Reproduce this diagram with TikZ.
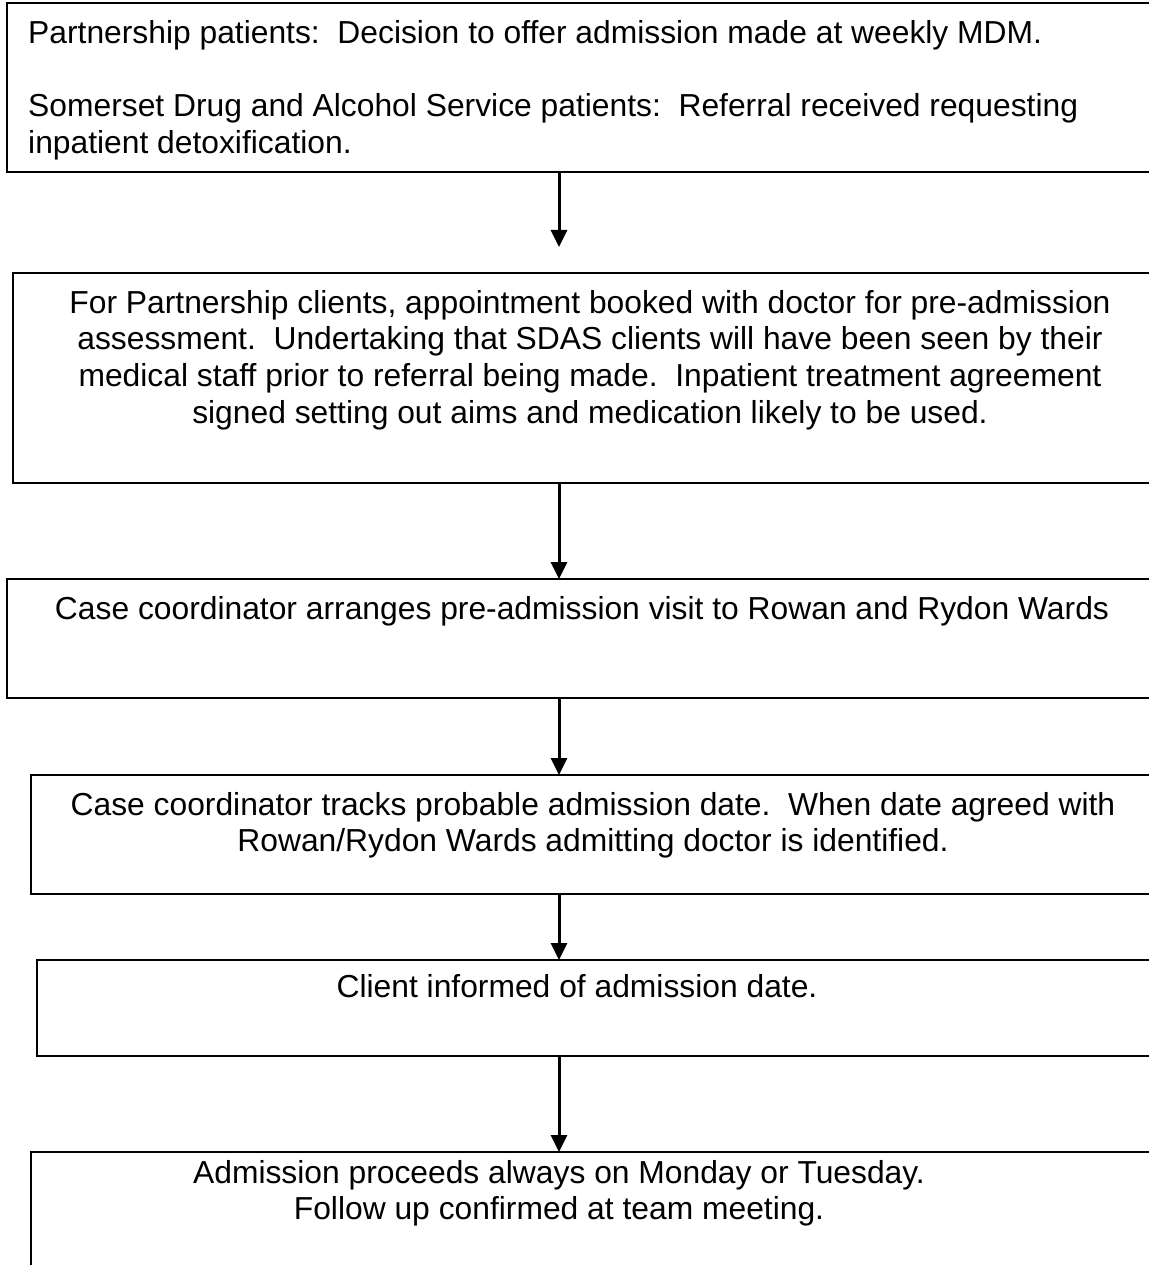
\documentclass[tikz,border=0pt]{standalone}
\usepackage{fontspec}
\setmainfont{Liberation Sans}
\usetikzlibrary{arrows.meta}

\begin{document}
\begin{tikzpicture}[x=1pt,y=-1pt,
    box/.style={draw,line width=1.8pt,outer sep=0pt,inner sep=0pt,anchor=north west},
    txt/.style={inner sep=0pt,anchor=north,align=center,font=\fontsize{31.8}{36.7}\selectfont},
    flow/.style={line width=3pt,-{Triangle[width=16pt,length=17pt]}}]
  \useasboundingbox (0,0) rectangle (1148,1265);
  % boxes, their right sides run off the page
  \node[box,minimum width=1163pt,minimum height=169pt] (b1) at (7,3) {};
  \node[box,minimum width=1157pt,minimum height=210pt] (b2) at (13,273) {};
  \node[box,minimum width=1163pt,minimum height=119pt] (b3) at (7,579) {};
  \node[box,minimum width=1139pt,minimum height=119pt] (b4) at (31,775) {};
  \node[box,minimum width=1133pt,minimum height=96pt] (b5) at (37,960) {};
  \node[box,minimum width=1139pt,minimum height=150pt] (b6) at (31,1152) {};
  % texts
  \node[txt,anchor=north west,align=left] (t1) at (28,20)
    {Partnership patients:\ \ Decision to offer admission made at weekly MDM.\\[36.7pt]
     Somerset Drug and Alcohol Service patients:\ \ Referral received requesting\\
     inpatient detoxification.};
  \node[txt] (t2) at (590,290)
    {For Partnership clients, appointment booked with doctor for pre-admission\\
     assessment.\ \ Undertaking that SDAS clients will have been seen by their\\
     medical staff prior to referral being made.\ \ Inpatient treatment agreement\\
     signed setting out aims and medication likely to be used.};
  \node[txt] (t3) at (582,596)
    {Case coordinator arranges pre-admission visit to Rowan and Rydon Wards};
  \node[txt] (t4) at (593,792)
    {Case coordinator tracks probable admission date.\ \ When date agreed with\\
     Rowan/Rydon Wards admitting doctor is identified.};
  \node[txt] (t5) at (577,974)
    {Client informed of admission date.};
  \node[txt] (t6) at (559,1160)
    {Admission proceeds always on Monday or Tuesday.\\
     Follow up confirmed at team meeting.};
  % arrows
  \coordinate (ax) at (559,0);
  \coordinate (a1) at (559,247);
  \draw[flow] (b1.south -| ax) -- (a1);
  \draw[flow] (b2.south -| ax) -- (b3.north -| ax);
  \draw[flow] (b3.south -| ax) -- (b4.north -| ax);
  \draw[flow] (b4.south -| ax) -- (b5.north -| ax);
  \draw[flow] (b5.south -| ax) -- (b6.north -| ax);
\end{tikzpicture}
\end{document}
